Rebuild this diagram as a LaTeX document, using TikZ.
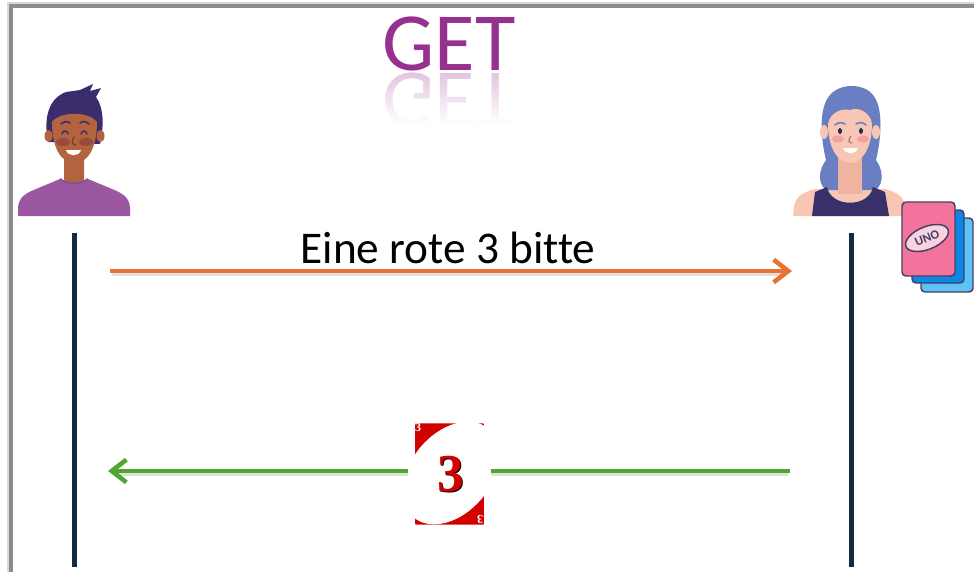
\documentclass[tikz,border=0pt]{standalone}
\usepackage{fontspec}
\setmainfont{Carlito}[Ligatures=NoCommon]
\newfontfamily\cardfont{Liberation Serif}
\usetikzlibrary{arrows.meta,shapes.geometric,fadings}

\definecolor{linecol}{HTML}{132A45}
\definecolor{askcol}{HTML}{E97132}
\definecolor{givecol}{HTML}{4EA72E}
\definecolor{getcol}{HTML}{97318F}
\definecolor{manhair}{HTML}{3B2C6E}
\definecolor{manskin}{HTML}{B4633F}
\definecolor{mandark}{HTML}{7A3A24}
\definecolor{manshirt}{HTML}{9B57A0}
\definecolor{mancollar}{HTML}{8550A2}
\definecolor{mancheek}{HTML}{994A3A}
\definecolor{herhair}{HTML}{6A7EC2}
\definecolor{herskin}{HTML}{F7C6B4}
\definecolor{herneck}{HTML}{EFB3A0}
\definecolor{hertop}{HTML}{392F6B}
\definecolor{hercheek}{HTML}{F2A3A0}
\definecolor{eyecol}{HTML}{2E2A4F}
\definecolor{cardred}{HTML}{D30000}
\definecolor{unopink}{HTML}{F2749D}
\definecolor{unoblue}{HTML}{0A86E4}
\definecolor{unolight}{HTML}{5EC2F5}
\definecolor{unoline}{HTML}{4A3D62}
\definecolor{unooval}{HTML}{F8D2E1}

\tikzfading[name=mirrorfade, top color=transparent!100, bottom color=transparent!0]

\begin{document}
\begin{tikzpicture}[x=0.75pt,y=-0.75pt,
  lifeline/.style={draw=linecol, line width=3.75pt},
  msg/.style={line width=3.4pt, -{Straight Barb[length=11pt,width=17pt]}},
  msgshadow/.style={line width=3.4pt, black!12},
  unocard/.style={draw=unoline, line width=1.1pt, rounded corners=3pt}]

  \useasboundingbox (0,0) rectangle (974,572);

  % frame
  \draw[line width=2pt, black!15] (8,572) -- (8,3) -- (974,3);
  \draw[line width=2.5pt, black!45] (11,572) -- (11,6) -- (974,6);

  % title with mirror image
  \node[anchor=base, text=getcol, font=\fontsize{62}{62}\selectfont] (title) at (449,70) {GET};
  \node[anchor=base, text=getcol!28, font=\fontsize{62}{62}\selectfont,
        yscale=-1, transform shape] (titlemirror) at (449,73) {GET};
  \fill[white, path fading=mirrorfade] (370,72) rectangle (530,124);
  \fill[white] (370,123) rectangle (530,132);

  % --- left person ---
  \fill[manshirt] (18,216) -- (18,207) .. controls (19,197) and (26,193) .. (36,189)
    -- (60,179) .. controls (68,184) and (80,184) .. (88,179)
    -- (112,189) .. controls (122,193) and (129,197) .. (130,207) -- (130,216) -- cycle;
  \fill[manskin] (64,150) -- (64,180) .. controls (70,186) and (78,186) .. (84,180) -- (84,150) -- cycle;
  \draw[mancollar, line width=1.5pt] (60,179) .. controls (68,185) and (80,185) .. (88,179);
  \fill[manhair] (48,142) .. controls (43,115) and (50,98) .. (66,92) -- (80,90) -- (93,84)
    -- (90,91) -- (101,88) -- (96,97) .. controls (104,108) and (104,126) .. (100,144) -- cycle;
  \fill[manskin] (48.5,136) ellipse [x radius=4, y radius=6];
  \fill[manskin] (100.5,136) ellipse [x radius=4, y radius=6];
  \fill[manskin] (52,122) .. controls (60,111) and (89,111) .. (97,122)
    .. controls (97,146) and (89,163) .. (74.5,163) .. controls (60,163) and (52,146) .. (52,122) -- cycle;
  \draw[manhair, line width=1.2pt, line cap=round] (61,124) .. controls (64,121) and (68,121) .. (70,123);
  \draw[manhair, line width=1.2pt, line cap=round] (80,123) .. controls (82,121) and (86,121) .. (89,124);
  \draw[manhair, line width=1.1pt, line cap=round] (62,134) .. controls (63,130) and (67,130) .. (68,134);
  \draw[manhair, line width=1.1pt, line cap=round] (81,134) .. controls (82,130) and (86,130) .. (87,134);
  \fill[mancheek] (63,142) ellipse [x radius=7, y radius=4];
  \fill[mancheek] (86,142) ellipse [x radius=7, y radius=4];
  \draw[mandark, line width=0.9pt, line cap=round] (74,137) .. controls (71,141) and (72,145) .. (76,145);
  \fill[white] (66,150) .. controls (68,157) and (79,157) .. (81,150) -- cycle;

  % --- right person ---
  \fill[herskin] (793,216) -- (794,206) .. controls (796,196) and (804,192) .. (815,189)
    -- (885,189) .. controls (896,192) and (904,196) .. (905,206) -- (905,216) -- cycle;
  \fill[herhair] (826,190) .. controls (816,182) and (820,168) .. (826,160)
    .. controls (821,140) and (818,108) .. (830,95) .. controls (840,83) and (864,83) .. (873,95)
    .. controls (884,108) and (881,140) .. (876,160) .. controls (882,168) and (885,182) .. (876,190) -- cycle;
  \fill[herneck] (838,150) -- (838,194) -- (862,194) -- (862,150) -- cycle;
  \fill[hertop] (812,216) -- (815,192) -- (827,187) .. controls (831,208) and (869,208) .. (873,187)
    -- (885,192) -- (889,216) -- cycle;
  \fill[herskin] (824,132) ellipse [x radius=4, y radius=7];
  \fill[herskin] (876,132) ellipse [x radius=4, y radius=7];
  \fill[herskin] (828,124) .. controls (830,112) and (842,108) .. (850,110)
    .. controls (860,106) and (871,114) .. (872,124)
    .. controls (872,148) and (862,163) .. (850,163) .. controls (838,163) and (828,148) .. (828,124) -- cycle;
  \draw[herhair, line width=1.2pt, line cap=round] (835,125) .. controls (838,122) and (842,122) .. (845,124);
  \draw[herhair, line width=1.2pt, line cap=round] (856,124) .. controls (859,122) and (863,122) .. (866,125);
  \fill[eyecol] (840,131) ellipse [x radius=2, y radius=3];
  \fill[eyecol] (861,131) ellipse [x radius=2, y radius=3];
  \fill[hercheek] (838,139) ellipse [x radius=6, y radius=3.5];
  \fill[hercheek] (863,139) ellipse [x radius=6, y radius=3.5];
  \draw[mandark!70, line width=0.8pt, line cap=round] (851,136) .. controls (848,140) and (848,143) .. (852,143);
  \fill[white] (843,148) .. controls (845,155) and (856,155) .. (858,148) -- cycle;

  % card deck
  \draw[unocard, fill=unolight] (921,218) rectangle (973,292);
  \draw[unocard, fill=unoblue] (912,210) rectangle (964,283);
  \draw[unocard, fill=unopink] (902,202) rectangle (955,276);
  \node[ellipse, draw=unoline, line width=1.1pt, fill=unooval, rotate=22, inner sep=0pt,
        minimum width=34pt, minimum height=17pt, text=unoline,
        font=\fontsize{9.5}{9.5}\selectfont\bfseries] (unologo) at (927,238) {UNO};

  % lifelines
  \coordinate (clienttop) at (74,233);
  \coordinate (clientbot) at (74,567);
  \coordinate (servertop) at (851,233);
  \coordinate (serverbot) at (851,567);
  \draw[lifeline] (clienttop) -- (clientbot);
  \draw[lifeline] (servertop) -- (serverbot);

  % request
  \coordinate (askfrom) at (110,271);
  \coordinate (askto) at (792,271);
  \draw[msgshadow] (112,273.5) -- (786,273.5);
  \draw[msg, askcol] (askfrom) -- (askto);
  \node[anchor=base, font=\fontsize{34}{34}\selectfont] (asklabel) at (448,263) {Eine rote 3 bitte};

  % response
  \coordinate (givefrom) at (790,471);
  \coordinate (giveto) at (108,471);
  \draw[msgshadow] (788,473.5) -- (114,473.5);
  \draw[msg, givecol] (givefrom) -- (giveto);

  % the red three
  \node[draw=white, line width=5pt, fill=cardred, rounded corners=3pt,
        minimum width=57pt, minimum height=81pt] (card) at (449.5,474) {};
  \begin{scope}
    \clip[rounded corners=2pt] (412,420) rectangle (487,528);
    \fill[white, rotate around={50:(451,473)}] (451,473) ellipse [x radius=58, y radius=40];
  \end{scope}
  \node[text=black, font=\cardfont\bfseries\fontsize{40}{40}\selectfont] at (452.3,475.3) {3};
  \node[text=cardred, font=\cardfont\bfseries\fontsize{40}{40}\selectfont] (cardnum) at (451,474) {3};
  \node[text=white, font=\cardfont\bfseries\fontsize{9}{9}\selectfont] (cornerA) at (418,428) {3};
  \node[text=white, font=\cardfont\bfseries\fontsize{9}{9}\selectfont, rotate=180] (cornerB) at (480,519) {3};

\end{tikzpicture}
\end{document}
